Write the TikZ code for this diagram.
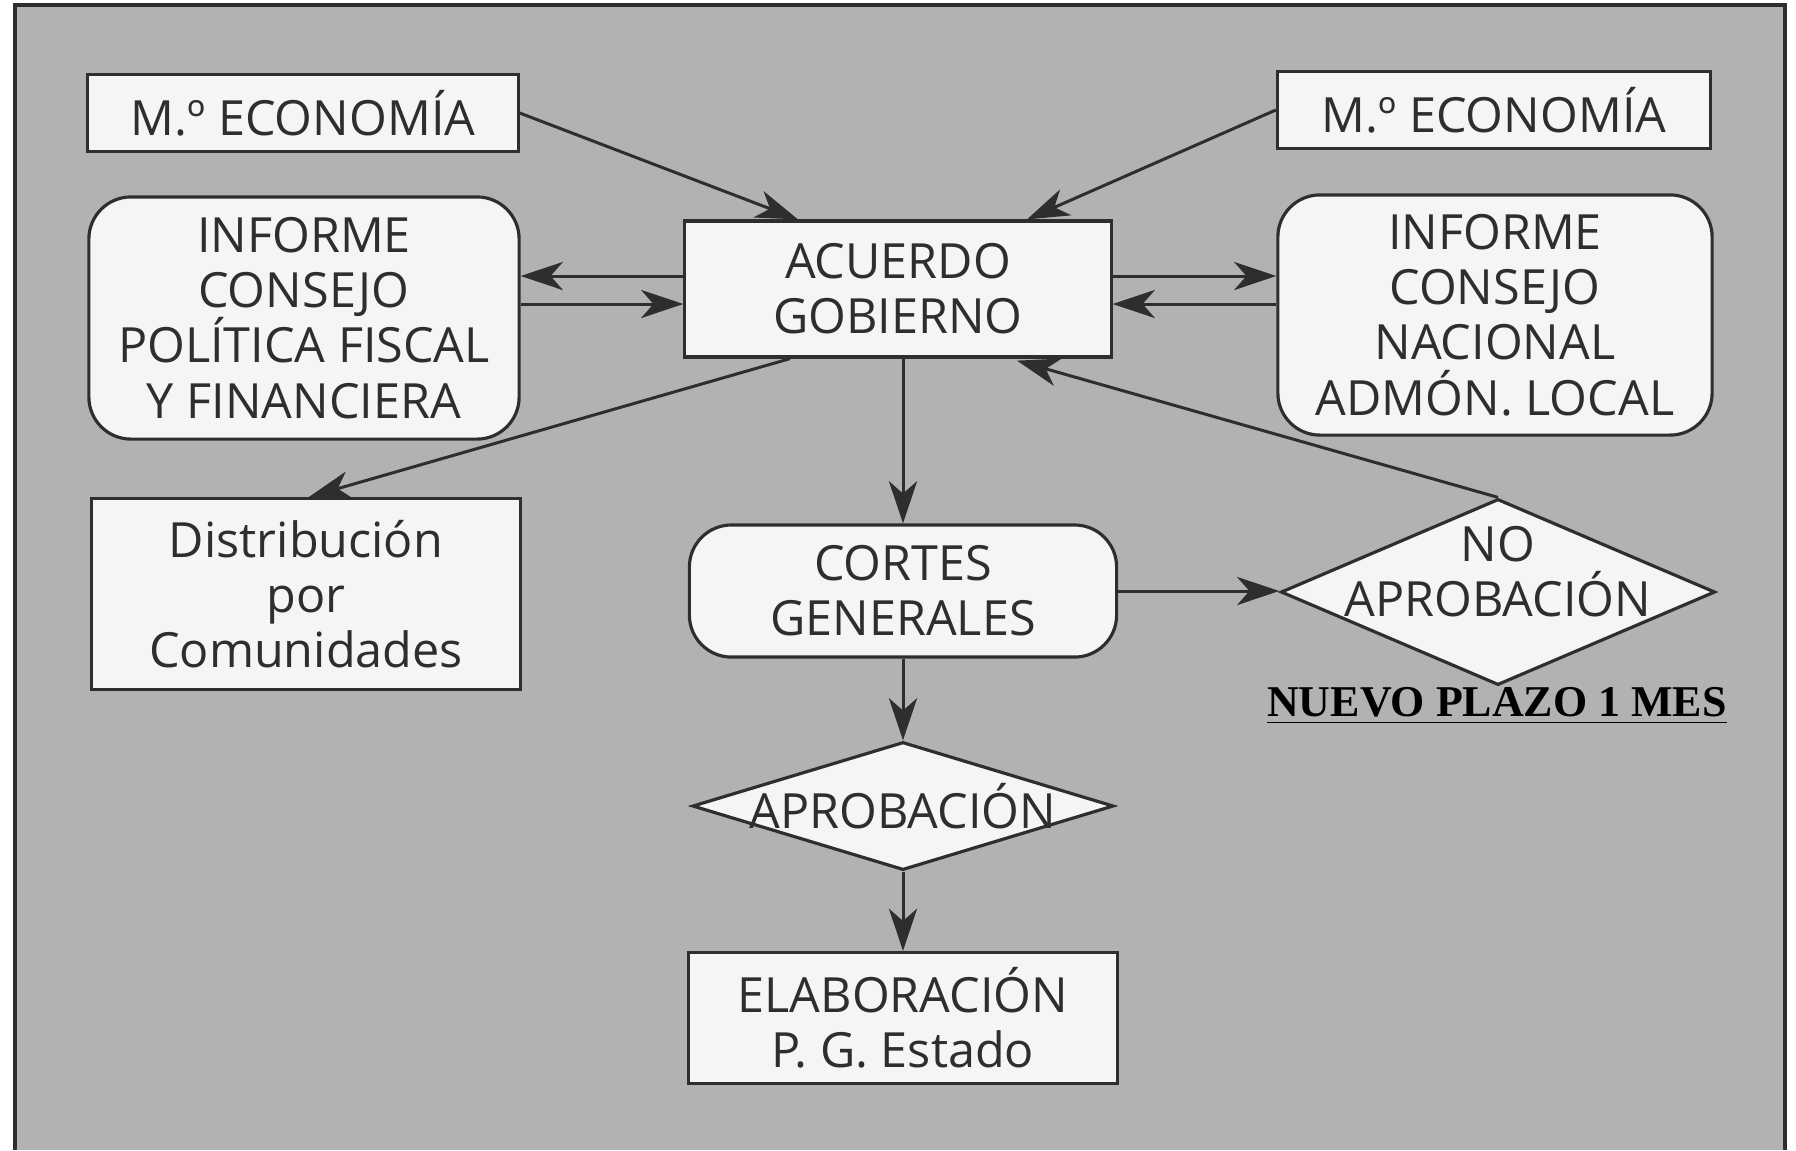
\documentclass[tikz,border=0pt]{standalone}
\usepackage{fontspec}
\setmainfont{Open Sans}
\newfontfamily\serifb{Liberation Serif}
\usetikzlibrary{shapes.geometric,arrows.meta,calc}
\definecolor{bg}{gray}{0.70}
\definecolor{boxfill}{gray}{0.96}
\definecolor{ink}{gray}{0.18}
\begin{document}
\begin{tikzpicture}[x=0.01cm,y=-0.01cm,
  txt/.style={font=\fontsize{13.8}{15.7}\selectfont, text=ink, align=center, inner sep=0pt},
  box/.style={txt, draw=ink, line width=0.9pt, fill=boxfill},
  rbox/.style={box, rounded corners=0.42cm},
  dia/.style={txt, diamond, draw=ink, line width=0.9pt, fill=boxfill},
  arr/.style={draw=ink, line width=0.85pt, -{Stealth[length=12pt,width=8pt,inset=3.5pt]}}]
\useasboundingbox (0,0) rectangle (1796,1150);
\fill[bg] (15,5) rectangle (1785,1150);
\draw[ink, line width=1.3pt] (15,1150) -- (15,5) -- (1785,5) -- (1785,1150);

\node[box, minimum width=4.30cm, minimum height=0.77cm] (me1) at (303,113) {M.º ECONOMÍA};
\node[rbox, minimum width=4.30cm, minimum height=2.42cm] (ic1) at (304,318) {INFORME\\CONSEJO\\POLÍTICA FISCAL\\Y FINANCIERA};
\node[box, minimum width=4.26cm, minimum height=1.36cm] (ag) at (898,289) {ACUERDO\\GOBIERNO};
\node[box, minimum width=4.33cm, minimum height=0.77cm] (me2) at (1494,110) {M.º ECONOMÍA};
\node[rbox, minimum width=4.34cm, minimum height=2.40cm] (ic2) at (1495,315) {INFORME\\CONSEJO\\NACIONAL\\ADMÓN. LOCAL};
\node[box, minimum width=4.29cm, minimum height=1.91cm] (dc) at (306,594) {Distribución\\por\\Comunidades};
\node[rbox, minimum width=4.27cm, minimum height=1.32cm] (cg) at (903,591) {CORTES\\GENERALES};
\node[dia, aspect=2.33, minimum width=4.34cm, minimum height=1.86cm] (na) at (1498,592) {};
\node[txt] (natext) at (1498,572) {NO\\APROBACIÓN};
\node[txt, font=\fontsize{12.5}{14}\selectfont\serifb\bfseries, text=black] (np) at (1497,706) {\underline{NUEVO PLAZO 1 MES}};
\node[dia, aspect=3.29, minimum width=4.21cm, minimum height=1.28cm] (ap) at (903,806) {};
\node[txt] (aptext) at (903,806) {APROBACIÓN};
\node[box, minimum width=4.28cm, minimum height=1.31cm] (el) at (903,1018) {ELABORACIÓN\\P. G. Estado};

\draw[arr] (me1.east) -- ($(ag.north)+(-100,0)$);
\draw[arr] (me2.west) -- ($(ag.north)+(129,0)$);
\coordinate (a1) at ($(ag.west)+(0,-13)$);
\coordinate (a2) at ($(ic1.east)+(0,-14)$);
\draw[arr] (a1) -- (a1 -| ic1.east);
\draw[arr] (a2) -- (a2 -| ag.west);
\coordinate (a3) at ($(ag.east)+(0,-13)$);
\coordinate (a4) at ($(ic2.west)+(0,-11)$);
\draw[arr] (a3) -- (a3 -| ic2.west);
\draw[arr] (a4) -- (a4 -| ag.east);
\draw[arr] ($(ag.south)+(-108,0)$) -- ($(dc.north)+(3,0)$);
\draw[arr] (cg.north |- ag.south) -- (cg.north);
\draw[arr] (na.north) -- ($(ag.south)+(119,2)$);
\draw[arr] (cg.east) -- (cg.east -| na.west);
\draw[arr] (cg.south) -- (ap.north);
\draw[arr] (ap.south) -- (el.north);
\end{tikzpicture}
\end{document}
